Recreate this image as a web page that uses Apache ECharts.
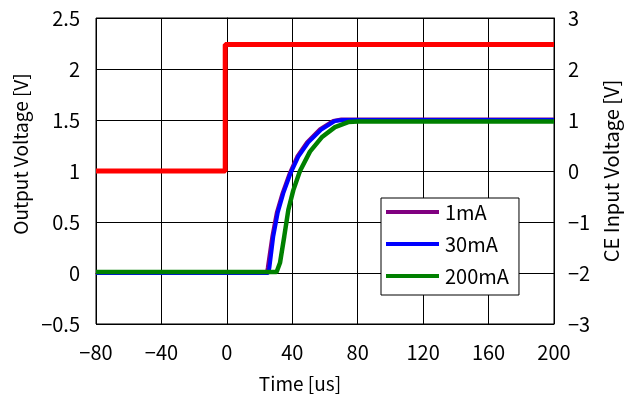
<!DOCTYPE html>
<html>
<head>
<meta charset="utf-8">
<script src="https://cdn.jsdelivr.net/npm/echarts@6/dist/echarts.min.js"></script>
<style>
html,body{margin:0;padding:0;background:#fff;}
#chart{width:635px;height:398px;}
</style>
</head>
<body>
<div id="chart"></div>
<script>
// Time axis ticks
const xTicks = [-80, -40, 0, 40, 80, 120, 160, 200];
// 1mA output voltage
const t1mA = [-80, 24.5, 25.0, 27.8, 30.5, 34.0, 38.5, 43.0, 49.0, 57.0, 65.0, 70.0, 200];
const v1mA = [0.0, 0.0, 0.05, 0.36, 0.59, 0.78, 0.98, 1.14, 1.28, 1.41, 1.49, 1.505, 1.505];
// 30mA output voltage
const t30mA = [-80, 25.3, 26.0, 28.4, 31.1, 34.5, 39.0, 43.7, 49.8, 58.0, 66.0, 71.0, 200];
const v30mA = [0.0, 0.0, 0.05, 0.36, 0.59, 0.78, 0.98, 1.14, 1.28, 1.41, 1.49, 1.5, 1.5];
// 200mA output voltage
const t200mA = [-80, 30.4, 32.5, 35.1, 37.6, 40.6, 44.7, 50.8, 58.0, 66.1, 74.2, 80.0, 200];
const v200mA = [0.01, 0.01, 0.1, 0.36, 0.62, 0.81, 1.0, 1.19, 1.33, 1.43, 1.48, 1.485, 1.485];
// CE input voltage (right axis)
const tCE = [-80, -1, -1, 200];
const vCE = [0, 0, 2.48, 2.48];

const pair = (t, v) => t.map((x, i) => [x, v[i]]);
const fmt = v => String(v).replace('-', '\u2212');
const FONT = '"Noto Sans CJK JP", "Liberation Sans", sans-serif';

const chart = echarts.init(document.getElementById('chart'), null, {renderer: 'canvas'});
chart.setOption({
  animation: false,
  backgroundColor: '#fff',
  textStyle: {fontFamily: FONT},
  grid: {left: 96, right: 81, top: 18, bottom: 71, show: true, borderColor: '#000', borderWidth: 1, containLabel: false},
  legend: {
    data: ['1mA', '30mA', '200mA'],
    orient: 'vertical',
    left: 381, top: 198,
    backgroundColor: '#fff',
    borderColor: '#000', borderWidth: 1,
    padding: [4, 10, 9, 5],
    itemWidth: 53, itemHeight: 4, itemGap: 12,
    icon: 'rect',
    textStyle: {fontFamily: FONT, fontSize: 20, color: '#000', lineHeight: 20, padding: [0, 0, 0, 1]}
  },
  xAxis: {
    type: 'value', min: -80, max: 200, interval: 40,
    name: 'Time [us]', nameLocation: 'middle', nameGap: 50,
    nameTextStyle: {fontFamily: FONT, fontSize: 19, color: '#000', padding: [0, 50, 0, 0]},
    axisLine: {show: true, lineStyle: {color: '#000'}},
    axisTick: {show: false},
    axisLabel: {color: '#000', fontSize: 20, fontFamily: FONT, margin: 18, formatter: fmt},
    splitLine: {show: true, lineStyle: {color: '#000', width: 1}}
  },
  yAxis: [{
    type: 'value', min: -0.5, max: 2.5, interval: 0.5,
    name: 'Output Voltage [V]', nameLocation: 'middle', nameGap: 62,
    nameTextStyle: {fontFamily: FONT, fontSize: 19, color: '#000', padding: [0, 0, 0, 34]},
    axisLine: {show: true, lineStyle: {color: '#000'}},
    axisTick: {show: false},
    axisLabel: {color: '#000', fontSize: 20, fontFamily: FONT, margin: 16, formatter: fmt},
    splitLine: {show: true, lineStyle: {color: '#000', width: 1}}
  }, {
    type: 'value', min: -3, max: 3, interval: 1, position: 'right',
    name: 'CE Input Voltage [V]', nameLocation: 'middle', nameGap: 46,
    nameTextStyle: {fontFamily: FONT, fontSize: 20, color: '#000'},
    axisLine: {show: true, lineStyle: {color: '#000'}},
    axisTick: {show: false},
    axisLabel: {color: '#000', fontSize: 20, fontFamily: FONT, margin: 14, formatter: fmt},
    splitLine: {show: false}
  }],
  series: [
    {name: 'CE', type: 'line', yAxisIndex: 1, data: pair(tCE, vCE), showSymbol: false, symbol: 'none',
     lineStyle: {color: '#ff0000', width: 5}, itemStyle: {color: '#ff0000'}},
    {name: '1mA', type: 'line', data: pair(t1mA, v1mA), showSymbol: false, symbol: 'none',
     lineStyle: {color: '#800080', width: 4}, itemStyle: {color: '#800080'}},
    {name: '30mA', type: 'line', data: pair(t30mA, v30mA), showSymbol: false, symbol: 'none',
     lineStyle: {color: '#0000ff', width: 4}, itemStyle: {color: '#0000ff'}},
    {name: '200mA', type: 'line', data: pair(t200mA, v200mA), showSymbol: false, symbol: 'none',
     lineStyle: {color: '#008000', width: 4.5}, itemStyle: {color: '#008000'}}
  ]
});
</script>
</body>
</html>
